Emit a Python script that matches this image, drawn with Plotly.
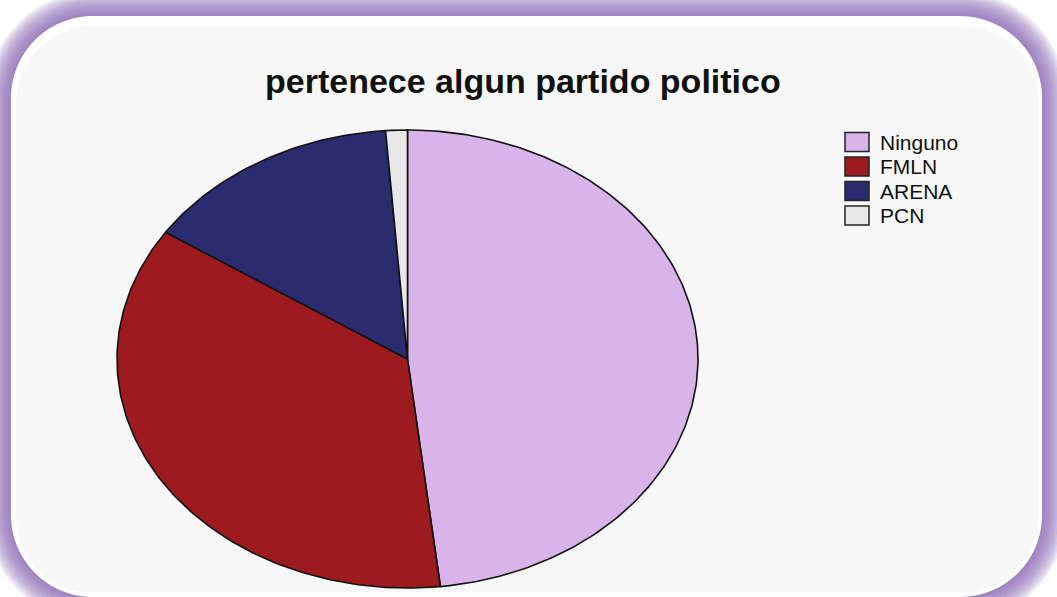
import math
import plotly.graph_objects as go

# ---- data ----
categories = ["Ninguno", "FMLN", "ARENA", "PCN"]
counts = [40, 30, 12, 1]
colors = ["#d9b4ea", "#9d1a1f", "#2b2b6f", "#e8e8e8"]
title_text = "pertenece algun partido politico"

W, H = 1057, 597
CX, CY, RX, RY = 407.5, 359.0, 290.5, 229.0
FONT = "Liberation Sans, Arial, sans-serif"

fig = go.Figure()

total = sum(counts)
start = 0.0
for name, val, col in zip(categories, counts, colors):
    frac = val / total
    n = max(4, int(400 * frac))
    xs, ys = [CX], [CY]
    for k in range(n + 1):
        th = 2 * math.pi * (start + frac * k / n)
        xs.append(CX + RX * math.sin(th))
        ys.append(CY - RY * math.cos(th))
    xs.append(CX)
    ys.append(CY)
    fig.add_trace(go.Scatter(
        x=xs, y=ys, mode="lines", fill="toself", fillcolor=col,
        line=dict(color="#111111", width=1.6), name=name,
        showlegend=False, hoverinfo="text",
        text=f"{name}: {val} ({frac*100:.1f}%)"))
    start += frac


def rrect(x0, y0, x1, y1, r):
    k = 0.5523 * r
    return (f"M{x0+r},{y0} L{x1-r},{y0} "
            f"C{x1-r+k},{y0} {x1},{y0+r-k} {x1},{y0+r} "
            f"L{x1},{y1-r} "
            f"C{x1},{y1-r+k} {x1-r+k},{y1} {x1-r},{y1} "
            f"L{x0+r},{y1} "
            f"C{x0+r-k},{y1} {x0},{y1-r+k} {x0},{y1-r} "
            f"L{x0},{y0+r} "
            f"C{x0},{y0+r-k} {x0+r-k},{y0} {x0+r},{y0} Z")


shapes = []
PX0, PY0, PX1, PY1, PR = 11, 16, 1042, 597, 82
for i in range(10, 0, -1):
    e = i * 2.4
    shapes.append(dict(type="path", xref="x", yref="y", layer="below",
                       path=rrect(PX0 - e, PY0 - e, PX1 + e, PY1 + e, PR + e),
                       fillcolor="#8e6bb8", opacity=0.15, line=dict(width=0)))
shapes.append(dict(type="path", xref="x", yref="y", layer="below",
                   path=rrect(PX0, PY0, PX1, PY1, PR),
                   fillcolor="#ffffff", line=dict(width=0)))
shapes.append(dict(type="path", xref="x", yref="y", layer="below",
                   path=rrect(PX0 + 5, PY0 + 10, PX1 - 3, PY1 - 4, PR - 5),
                   fillcolor="#f7f7f7", line=dict(width=0)))

annotations = [dict(x=523, y=81, xref="x", yref="y", text=f"<b>{title_text}</b>",
                    showarrow=False, xanchor="center", yanchor="middle",
                    font=dict(family=FONT, size=34, color="#111111"))]

# legend (boxes + labels)
LX0, LX1, LY0, LDY, LBH = 845, 869, 142, 24.5, 19
for i, (name, col) in enumerate(zip(categories, colors)):
    yc = LY0 + i * LDY
    shapes.append(dict(type="rect", xref="x", yref="y", layer="above",
                       x0=LX0, x1=LX1, y0=yc - LBH / 2, y1=yc + LBH / 2,
                       fillcolor=col, line=dict(color="#222222", width=1.5)))
    annotations.append(dict(x=878, y=yc, xref="x", yref="y", text=name,
                            showarrow=False, xanchor="left", yanchor="middle",
                            font=dict(family=FONT, size=21, color="#111111")))

fig.update_layout(
    width=W, height=H, autosize=False,
    margin=dict(l=0, r=0, t=0, b=0),
    paper_bgcolor="#ffffff", plot_bgcolor="rgba(0,0,0,0)",
    xaxis=dict(range=[0, W], visible=False, fixedrange=True),
    yaxis=dict(range=[H, 0], visible=False, fixedrange=True),
    shapes=shapes,
    showlegend=False,
    annotations=annotations,
)

fig.write_html("out.html", config={"displayModeBar": False},
               post_script="document.body.style.margin='0';document.body.style.overflow='hidden';")
